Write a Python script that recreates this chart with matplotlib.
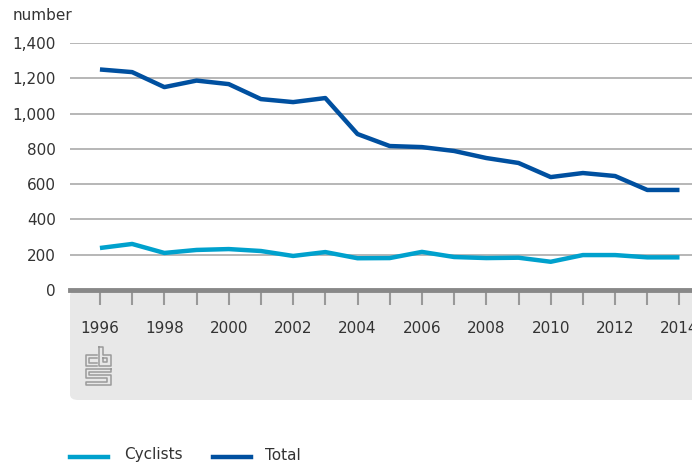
import numpy as np
import matplotlib.pyplot as plt
from matplotlib.patches import FancyBboxPatch, Rectangle
from matplotlib.lines import Line2D

## Data
years = list(range(1996, 2015))
total = [1250, 1235, 1150, 1187, 1167, 1082, 1065, 1088, 884, 816,
         810, 788, 748, 720, 640, 663, 646, 567, 567]
cyclists = [238, 261, 210, 227, 232, 221, 193, 215, 180, 181,
            216, 187, 181, 183, 160, 198, 198, 185, 185]
yticks = [0, 200, 400, 600, 800, 1000, 1200, 1400]
xlabels = list(range(1996, 2015, 2))

c_cyc = '#00a1cd'
c_tot = '#0050a0'
c_txt = '#333333'

W, H = 692, 463
fig = plt.figure(figsize=(W/100, H/100), dpi=100)
plt.rcParams['font.family'] = ['DejaVu Sans']

def fx(px): return px/W
def fy(py): return 1 - py/H

# gray panel under the axis
panel = FancyBboxPatch((fx(70), fy(400)), fx(692) - fx(70) + 0.02, fy(290) - fy(400),
                       boxstyle='round,pad=0,rounding_size=0.012',
                       transform=fig.transFigure, facecolor='#e8e8e8', edgecolor='none', zorder=-5)
fig.patches.append(panel)

ax = fig.add_axes([fx(70), fy(290), fx(692) - fx(70) + 0.001, fy(43) - fy(290)])
ax.set_facecolor('none')
ax.set_zorder(2)
ax.set_xlim(1995.07, 2014.41)
ax.set_ylim(0, 1400)

for y in yticks[1:]:
    ax.axhline(y, color='#aaaaaa', lw=1.2, zorder=1)
ax.axhline(0, color='#888888', lw=3.5, zorder=3, clip_on=False)

ax.plot(years, cyclists, color=c_cyc, lw=3.2, zorder=4, solid_capstyle='butt')
ax.plot(years, total, color=c_tot, lw=3.2, zorder=4, solid_capstyle='butt')

for s in ax.spines.values():
    s.set_visible(False)
ax.set_yticks(yticks)
ax.set_yticklabels(['{:,}'.format(v) for v in yticks], fontsize=11, color=c_txt)
ax.tick_params(axis='y', length=0, pad=10)
ax.set_xticks(years)
ax.set_xticklabels([str(y) if y in xlabels else '' for y in years], fontsize=11, color=c_txt)
ax.tick_params(axis='x', direction='out', length=11, width=1.5, color='#999999', pad=11)

fig.text(fx(13), fy(16), 'number', fontsize=11, color=c_txt, va='center', ha='left')

# cbs logo
lx, ly = 86, 347
def seg(pts):
    xs = [fx(lx + p[0]) for p in pts]
    ys = [fy(ly + p[1]) for p in pts]
    fig.lines.append(Line2D(xs, ys, transform=fig.transFigure, color='#9a9a9a', lw=1.1))
seg([(11, 8), (0, 8), (0, 19), (11, 19)])
seg([(11, 11), (3, 11), (3, 16), (11, 16)])
seg([(13, 0), (17, 0), (17, 8), (25, 8), (25, 19), (13, 19), (13, 0)])
seg([(17, 11), (21, 11), (21, 15), (17, 15), (17, 11)])
seg([(25, 22), (0, 22), (0, 31), (21, 31), (21, 35), (0, 35), (0, 38), (25, 38), (25, 28), (3, 28), (3, 25), (25, 25), (25, 22)])

# legend
fig.lines.append(Line2D([fx(70), fx(108)], [fy(457), fy(457)], transform=fig.transFigure, color=c_cyc, lw=3.2))
fig.text(fx(124), fy(455), 'Cyclists', fontsize=11, color=c_txt, va='center')
fig.lines.append(Line2D([fx(213), fx(251)], [fy(457), fy(457)], transform=fig.transFigure, color=c_tot, lw=3.2))
fig.text(fx(265), fy(455), 'Total', fontsize=11, color=c_txt, va='center')

fig.savefig('out.png', dpi=100)
